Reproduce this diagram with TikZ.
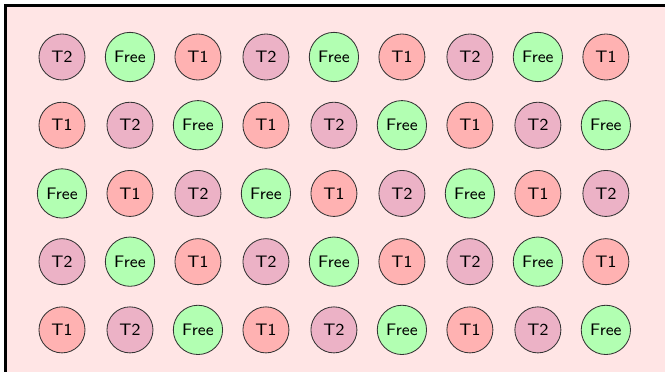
\documentclass[tikz,border=0pt]{standalone}
\begin{document}
\begin{tikzpicture}[>=stealth,
    slot/.style={circle, draw=black!80, thin, inner sep=0pt, font=\sffamily\footnotesize},
    tone/.style={slot, fill=red!30, minimum size=7.75mm},
    ttwo/.style={slot, fill=purple!30, minimum size=7.75mm},
    free/.style={slot, fill=green!30, minimum size=8.3mm}]
	% Page size, background panel with frame (cut at right and bottom)
	\useasboundingbox (0,0) rectangle (11.2,6.265);
	\clip (0,0) rectangle (11.2,6.265);
	\draw[line width=1.4pt, fill=red!10] (0.093,-0.5) rectangle (11.6,6.173);
	
	% Slots: 5 rows, 9 columns, the pattern T2, Free, T1 shifts by one per row
	\foreach \r in {0,...,4} {
		\foreach \c in {0,...,8} {
			\pgfmathtruncatemacro{\k}{mod(\c-\r+6,3)}
			\coordinate (p\r\c) at ({1.044+1.145*\c}, {5.305-1.149*\r});
			\ifcase\k
				\node[ttwo] (s\r\c) at (p\r\c) {T2};
			\or
				\node[free] (s\r\c) at (p\r\c) {Free};
			\or
				\node[tone] (s\r\c) at (p\r\c) {T1};
			\fi
		}
	}
\end{tikzpicture}
\end{document}
